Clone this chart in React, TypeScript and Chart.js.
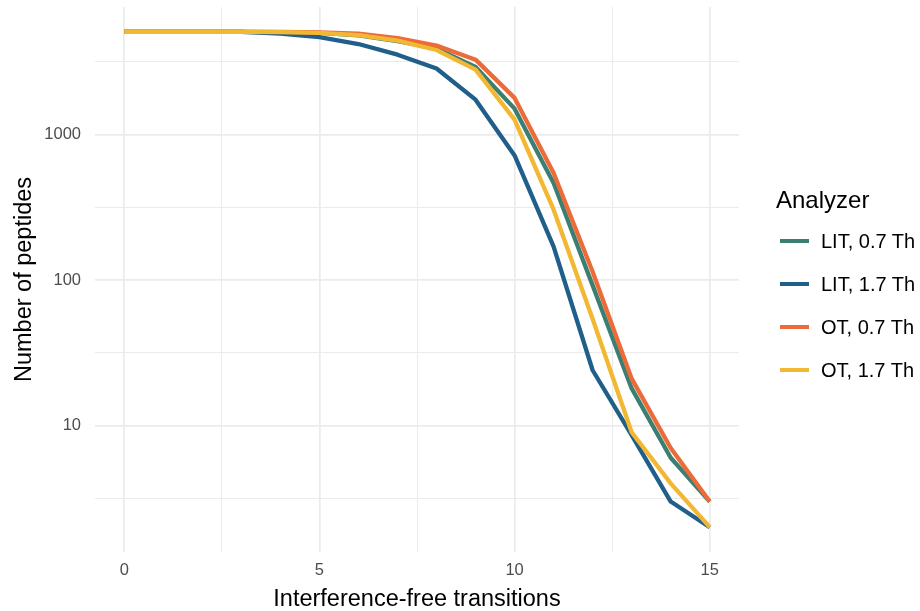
import React, { useEffect, useRef } from "react";
import { Chart, registerables } from "chart.js";

Chart.register(...registerables);

// ---------- data ----------
const transitions = [0, 1, 2, 3, 4, 5, 6, 7, 8, 9, 10, 11, 12, 13, 14, 15];
const litNarrow = [5100, 5100, 5100, 5100, 5080, 5020, 4820, 4400, 3900, 2920, 1510, 465, 92, 18, 6, 3];
const litWide = [5100, 5100, 5100, 5090, 4950, 4680, 4200, 3550, 2850, 1740, 720, 170, 24, 8.6, 3, 2];
const otNarrow = [5100, 5100, 5100, 5100, 5090, 5050, 4950, 4620, 4100, 3280, 1790, 545, 114, 21, 7, 3];
const otWide = [5100, 5100, 5100, 5100, 5080, 5020, 4830, 4430, 3820, 2800, 1270, 305, 54, 9, 4, 2];

const seriesNames = ["LIT, 0.7 Th", "LIT, 1.7 Th", "OT, 0.7 Th", "OT, 1.7 Th"];
const seriesValues = [litNarrow, litWide, otNarrow, otWide];
const seriesColors = ["#3b7f72", "#1f5f8a", "#ec6b38", "#f3b833"];

const xTickValues = [0, 2.5, 5, 7.5, 10, 12.5, 15];
const xTickLabels = ["0", "", "5", "", "10", "", "15"];
const yTickValues = [3.1623, 10, 31.623, 100, 316.23, 1000, 3162.3];
const yTickLabels = ["", "10", "", "100", "", "1000", ""];

const xLabel = "Interference-free transitions";
const yLabel = "Number of peptides";
const legendTitle = "Analyzer";

const FONT = "'Liberation Sans', Arial, Helvetica, sans-serif";

export default function App() {
  const ref = useRef<HTMLCanvasElement | null>(null);

  useEffect(() => {
    document.body.style.margin = "0";
    const canvas = ref.current;
    if (!canvas) return;
    const chart = new Chart(canvas, {
      type: "line",
      data: {
        datasets: seriesNames.map((name, i) => ({
          label: name,
          data: transitions.map((x, j) => ({ x, y: seriesValues[i][j] })),
          borderColor: seriesColors[i],
          backgroundColor: seriesColors[i],
          borderWidth: 4.3,
          pointRadius: 0,
          tension: 0,
          borderJoinStyle: "round" as const,
          borderCapStyle: "butt" as const,
          order: 3 - i,
        })),
      },
      options: {
        animation: false,
        responsive: false,
        devicePixelRatio: 1,
        layout: { padding: { top: 7, right: 181, left: 0, bottom: 0 } },
        plugins: { legend: { display: false }, tooltip: { enabled: false } },
        scales: {
          x: {
            type: "linear",
            min: -0.75,
            max: 15.75,
            afterBuildTicks: (s: any) => {
              s.ticks = xTickValues.map((v) => ({ value: v }));
            },
            afterFit: (s: any) => {
              s.height = 59;
              s.paddingLeft = 0;
              s.paddingRight = 0;
            },
            ticks: {
              autoSkip: false,
              maxRotation: 0,
              padding: 9,
              color: "#4d4d4d",
              font: { family: FONT, size: 16.5 },
              callback: (v: any) => {
                const k = xTickValues.indexOf(Number(v));
                return k >= 0 ? xTickLabels[k] : "";
              },
            },
            grid: {
              drawTicks: false,
              color: "#ebebeb",
              lineWidth: (c: any) => (c.tick && Number(c.tick.value) % 5 === 0 ? 1.7 : 1),
            },
            border: { display: false },
            title: {
              display: true,
              text: xLabel,
              color: "#000000",
              font: { family: FONT, size: 23.5, lineHeight: 0.95 },
              padding: { top: 0, bottom: 0 },
            },
          },
          y: {
            type: "logarithmic",
            min: 1.35,
            max: 7550,
            afterBuildTicks: (s: any) => {
              s.ticks = yTickValues.map((v) => ({ value: v }));
            },
            afterFit: (s: any) => {
              s.width = 95;
              s.paddingTop = 0;
              s.paddingBottom = 0;
            },
            ticks: {
              autoSkip: false,
              padding: 14,
              color: "#4d4d4d",
              font: { family: FONT, size: 16.5 },
              callback: (v: any) => {
                const k = yTickValues.indexOf(Number(v));
                return k >= 0 ? yTickLabels[k] : "";
              },
            },
            grid: {
              drawTicks: false,
              color: "#ebebeb",
              lineWidth: (c: any) => {
                const k = c.tick ? yTickValues.indexOf(Number(c.tick.value)) : -1;
                return k >= 0 && yTickLabels[k] !== "" ? 1.7 : 1;
              },
            },
            border: { display: false },
            title: {
              display: true,
              text: yLabel,
              color: "#000000",
              font: { family: FONT, size: 23.5 },
              padding: { top: 10, bottom: 0 },
            },
          },
        },
      },
    });
    return () => chart.destroy();
  }, []);

  return (
    <div style={{ position: "relative", width: 920, height: 611, background: "#ffffff" }}>
      <canvas ref={ref} width={920} height={611} style={{ display: "block", width: 920, height: 611 }} />
      <div
        style={{
          position: "absolute",
          left: 776,
          top: 188,
          fontFamily: FONT,
          fontSize: 24,
          lineHeight: "24px",
          color: "#000",
          whiteSpace: "nowrap",
        }}
      >
        {legendTitle}
      </div>
      {seriesNames.map((name, i) => (
        <div
          key={name}
          style={{
            position: "absolute",
            left: 780,
            top: 241 + i * 43 - 10,
            height: 20,
            display: "flex",
            alignItems: "center",
            whiteSpace: "nowrap",
          }}
        >
          <div style={{ width: 29, height: 4, background: seriesColors[i] }} />
          <span
            style={{
              marginLeft: 12,
              fontFamily: FONT,
              fontSize: 20,
              lineHeight: "20px",
              color: "#000",
            }}
          >
            {name}
          </span>
        </div>
      ))}
    </div>
  );
}
